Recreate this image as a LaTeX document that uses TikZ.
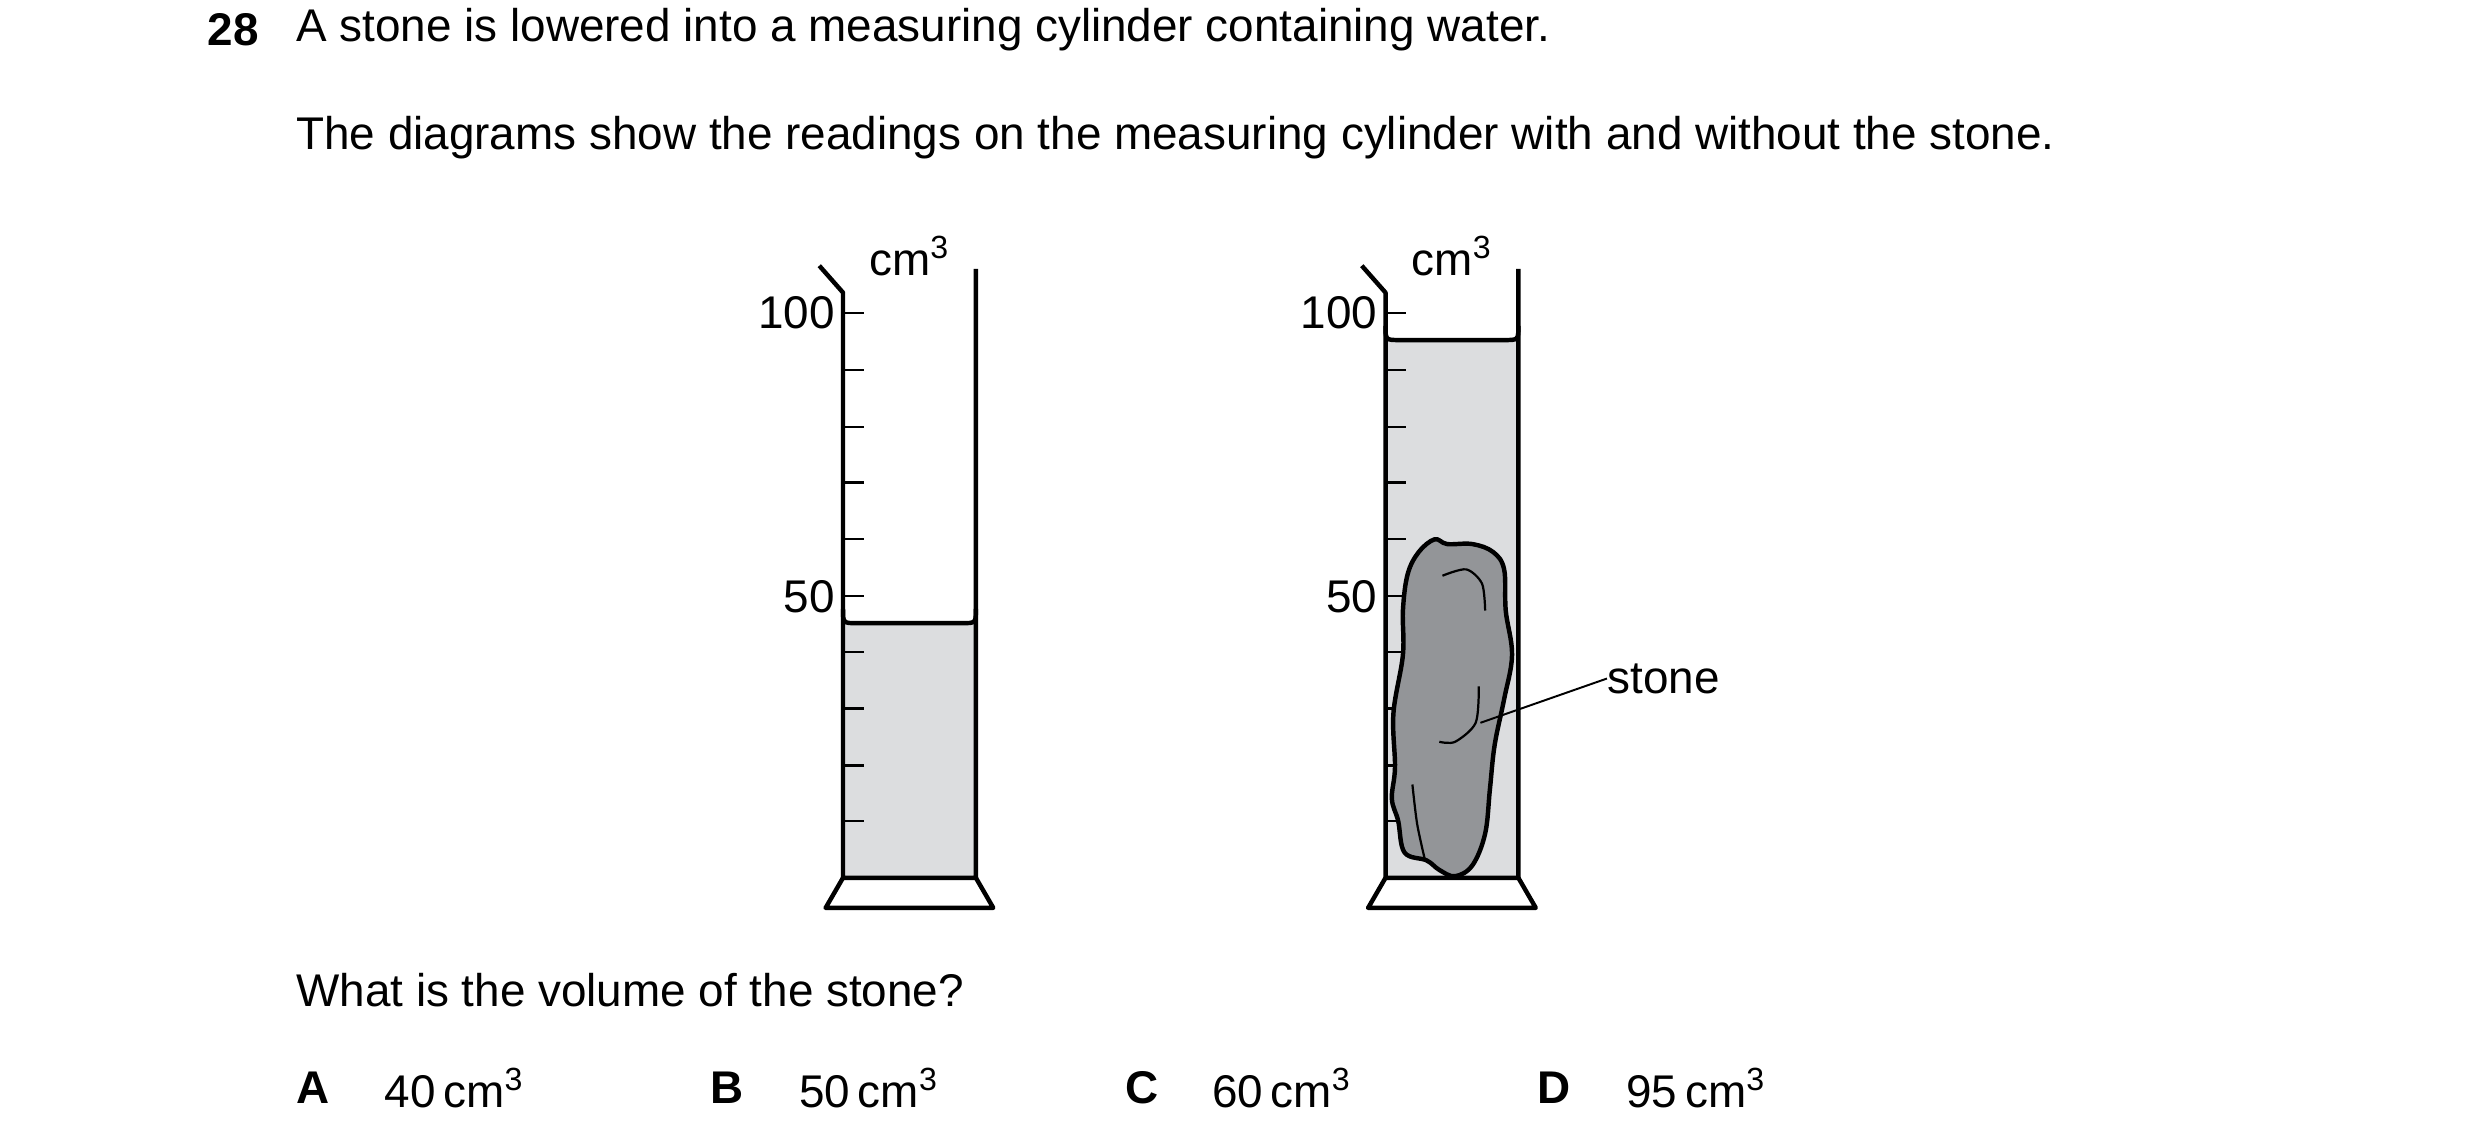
\documentclass[tikz,border=0pt]{standalone}
\usepackage{fontspec}
\setmainfont{Liberation Sans}
\definecolor{water}{HTML}{DCDDDF}
\definecolor{rock}{HTML}{939598}
\tikzset{
  wall/.style={line width=1.6pt, line join=round},
  tick/.style={line width=0.8pt},
  txt/.style={inner sep=0pt, font=\fontsize{16.5}{19}\selectfont},
}
% one measuring cylinder: #1 = x offset, #2 = water level (y), #3 = name
\newcommand{\mcyl}[3]{
  \begin{scope}[xshift=#1*0.02cm]
    \fill [water] (533,#2) -- (533,555) -- (617,555) -- (617,#2) -- cycle;
    \draw [wall] (533,#2-9) .. controls (533,#2) .. (542,#2) -- (608,#2) .. controls (617,#2) .. (617,#2-9);
    \draw [wall] (518,168) -- (533,185) -- (533,555) -- (617,555) -- (617,170);
    \draw [wall] (533,555) -- (522,574) -- (628,574) -- (617,555);
    \foreach \y in {198,234,270,305,341,377,412,448,484,519}
      \draw [tick] (533,\y) -- (546,\y);
    \node [txt, anchor=east] (#3100) at (528,198) {100};
    \node [txt, anchor=east] (#350) at (528,377) {50};
    \node [txt] (#3unit) at (575,162) {cm\textsuperscript{3}};
  \end{scope}
}
\begin{document}
\begin{tikzpicture}[x=0.02cm, y=-0.02cm]
      \useasboundingbox (0,0) rectangle (1568,723);
      \node [txt, anchor=west, font=\fontsize{16.5}{19}\selectfont\bfseries] (qnum) at (131,19) {28};
      \node [txt, anchor=west] (line1) at (187,19) {A stone is lowered into a measuring cylinder containing water.};
      \node [txt, anchor=west] (line2) at (187,87) {The diagrams show the readings on the measuring cylinder with and without the stone.};

      \mcyl{0}{394}{a}
      \mcyl{343}{215}{b}

      % the stone
      \draw [wall, fill=rock] plot [smooth cycle, tension=0.6] coordinates {
        (907,341) (915,344) (931,344) (944,349) (951,360) (952,386) (956,414)
        (951,442) (945,471) (942,499) (939,527) (931,547) (920,554) (910,550)
        (902,544) (888,539) (884,519) (880,505) (882,485) (881,451) (887,414)
        (887,386) (890,363) (897,349)};
      \draw [tick] plot [smooth] coordinates {(912,364) (927,360) (937,369) (939,386)};
      \draw [tick] plot [smooth] coordinates {(935,434) (933,457) (920,469) (910,469)};
      \draw [tick] plot [smooth] coordinates {(893,496) (896,521) (901,544)};
      \coordinate (stonept) at (936,457);
      \node [txt, anchor=west] (stonelbl) at (1016,429) {stone};
      \draw [line width=0.7pt] (stonept) -- (stonelbl.west);

      \node [txt, anchor=west] (ask) at (187,626) {What is the volume of the stone?};
      \foreach \l/\xl/\xv/\v in {A/187/243/40, B/449/505/50, C/711/766/60, D/972/1028/95} {
        \node [txt, anchor=west, font=\fontsize{16.5}{19}\selectfont\bfseries] (opt\l) at (\xl,688) {\l};
        \node [txt, anchor=west] (val\l) at (\xv,688) {\v\,cm\textsuperscript{3}};
      }
\end{tikzpicture}
\end{document}
